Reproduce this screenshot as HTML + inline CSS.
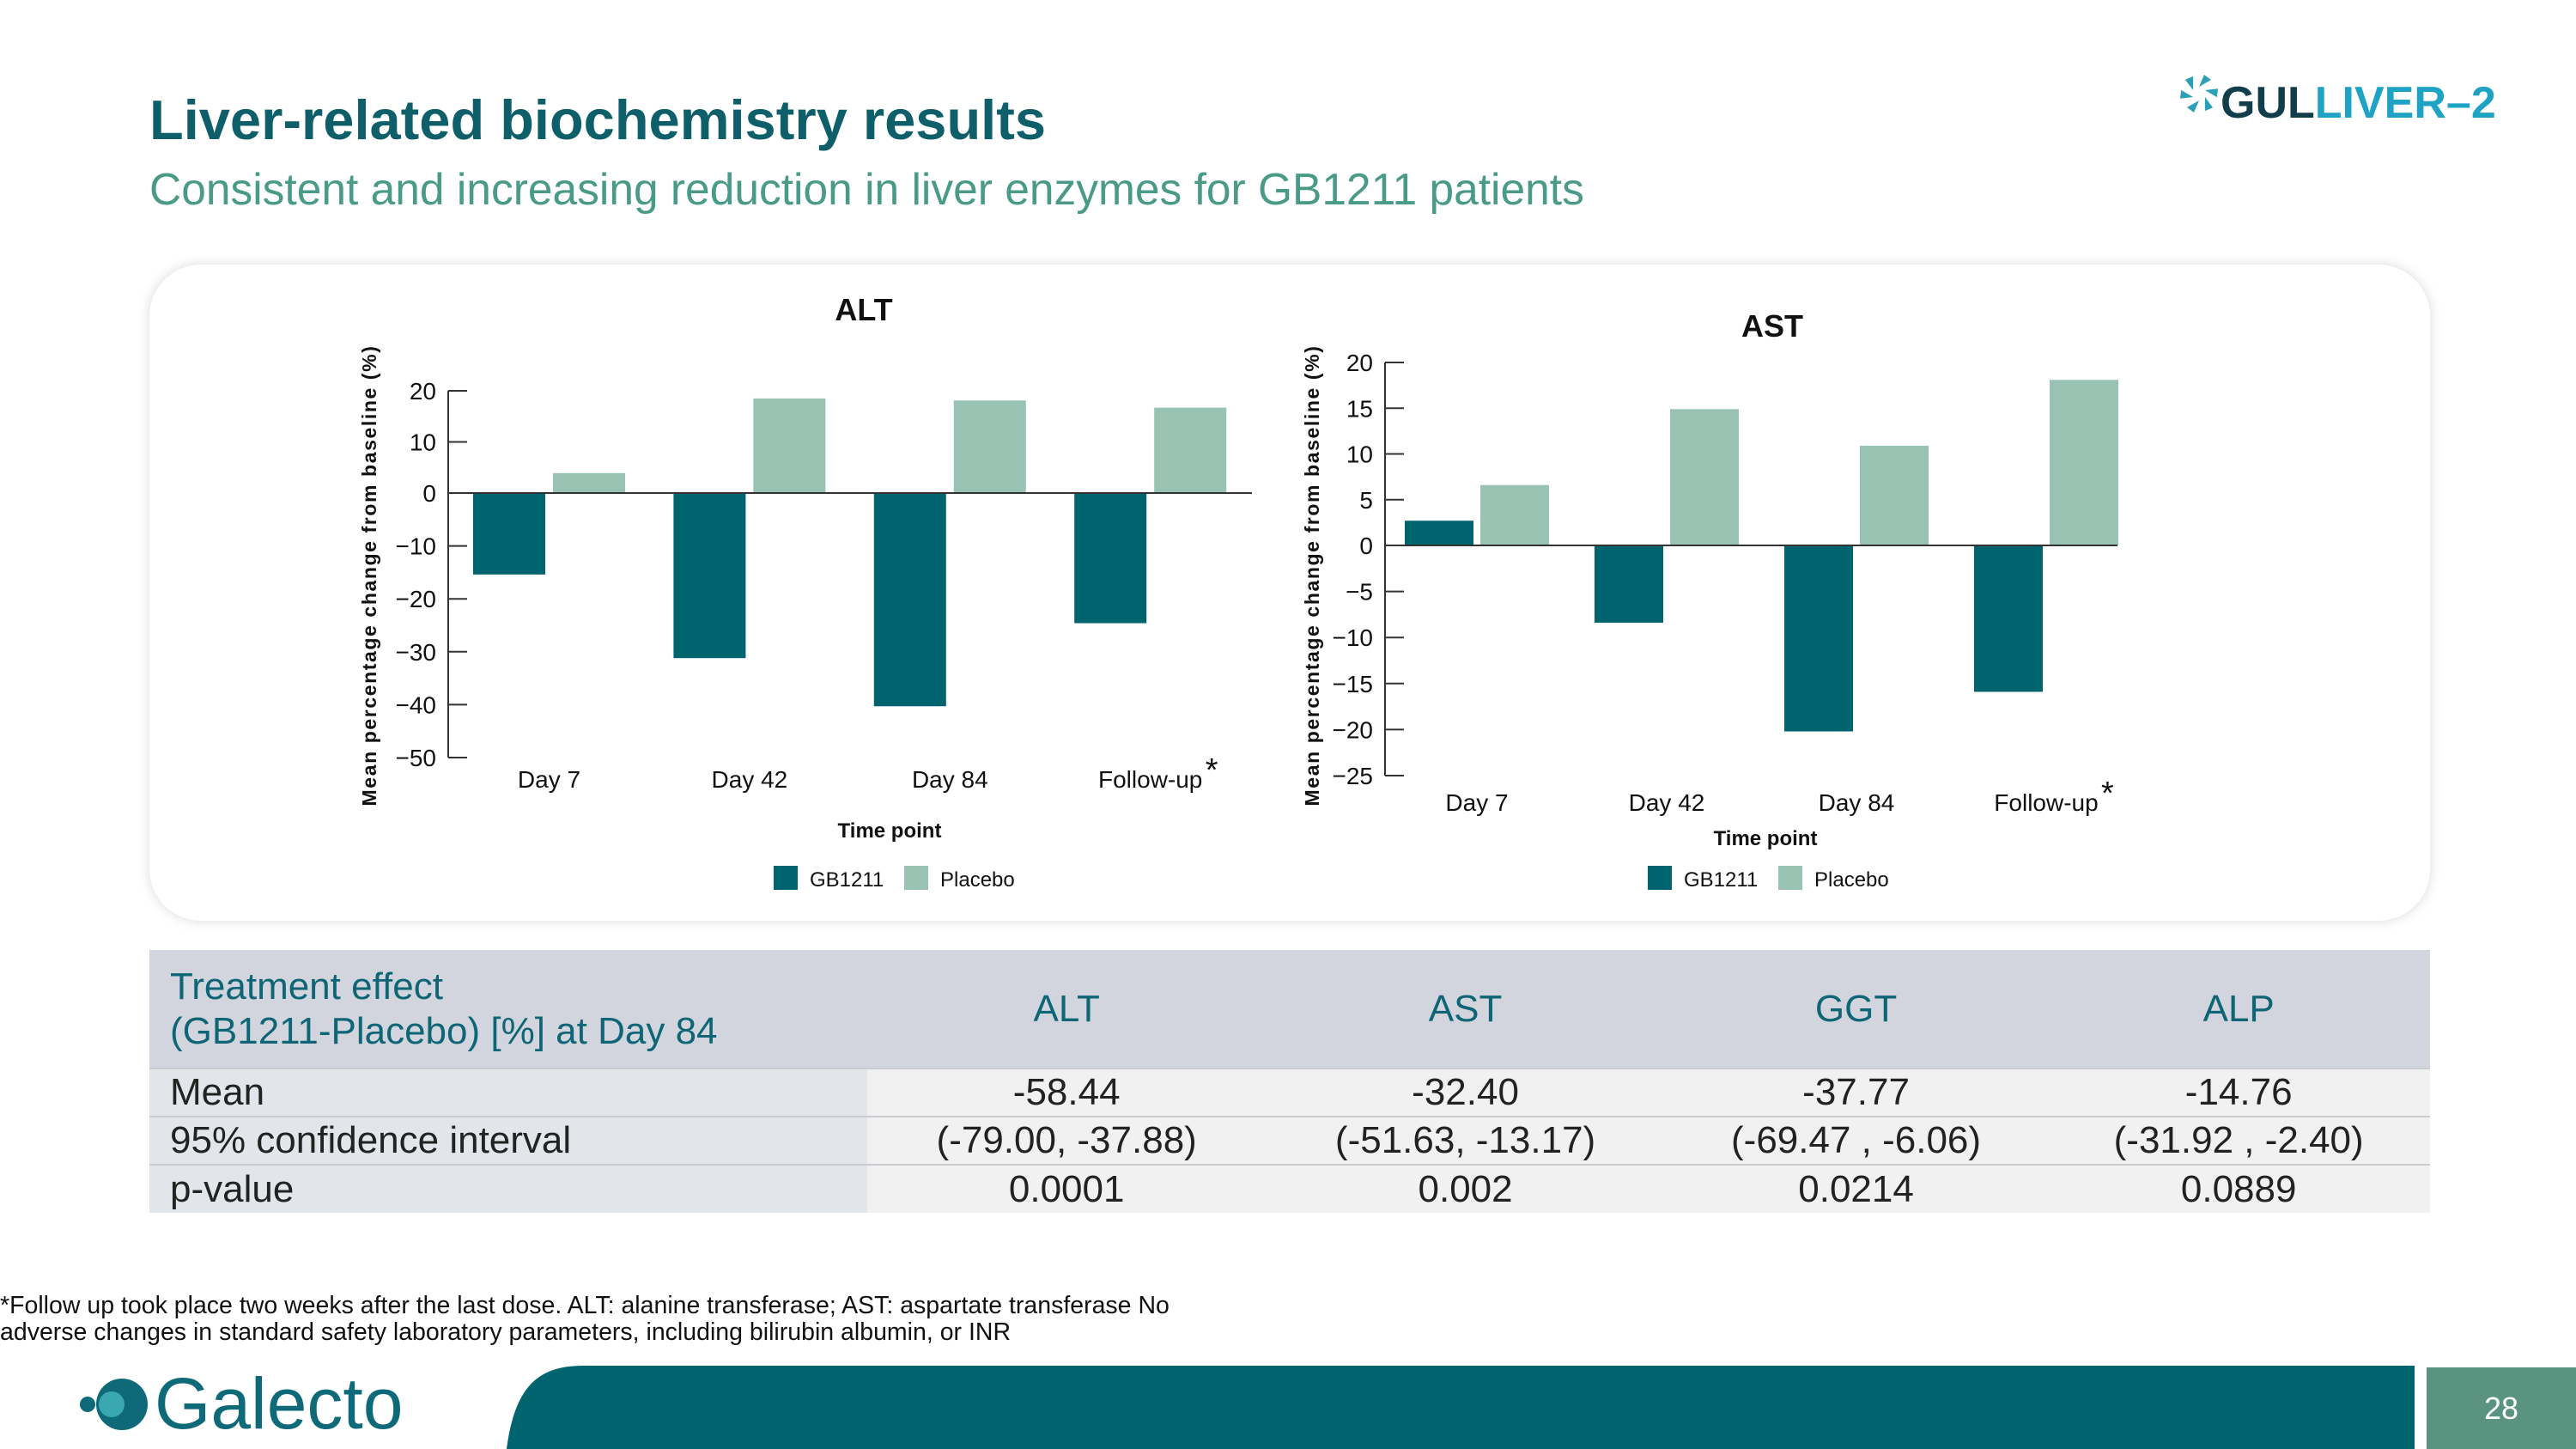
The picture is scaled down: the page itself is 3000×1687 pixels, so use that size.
<!DOCTYPE html>
<html><head><meta charset="utf-8"><style>
*{margin:0;padding:0;box-sizing:border-box}
body{width:3000px;height:1687px;position:relative;background:#fff;font-family:"Liberation Sans",sans-serif;overflow:hidden}
.abs{position:absolute}
#title{left:174px;top:102px;font-size:65px;font-weight:bold;color:#0e5f6a;white-space:nowrap}
#sub{left:174px;top:190px;font-size:51.5px;color:#4a9a88;white-space:nowrap}
#card{left:174px;top:308px;width:2656px;height:764px;border-radius:60px;background:#fff;box-shadow:0 0 14px rgba(0,0,0,0.15)}
table{position:absolute;left:174px;top:1106px;width:2656px;border-collapse:collapse;font-size:44px;color:#222}
td{text-align:center;padding:0;line-height:54px}
.hdr td{background:#d2d5dd;color:#0e6575;height:138px;line-height:52px}
.r td{height:56px;border-top:2px solid #c8cbd0;background:#f1f1f1}
.r td.f{background:#e2e6ea;text-align:left;padding-left:24px;width:836px}
#foot{left:0;top:1505px;font-size:28.5px;color:#111;line-height:31px;white-space:nowrap}
</style></head><body>
<div id="title" class="abs">Liver-related biochemistry results</div>
<div id="sub" class="abs">Consistent and increasing reduction in liver enzymes for GB1211 patients</div>
<div class="abs" style="left:2536px;top:84px;white-space:nowrap">
<svg width="50" height="50" viewBox="-25 -25 50 50" style="vertical-align:top"><g fill="#2a9fb5"><path d="M0,-8 L6,-22 L14,-16Z"/><path d="M0,-8 L6,-22 L14,-16Z" transform="rotate(60)"/><path d="M0,-8 L6,-22 L14,-16Z" transform="rotate(120)"/><path d="M0,-8 L6,-22 L14,-16Z" transform="rotate(180)"/><path d="M0,-8 L6,-22 L14,-16Z" transform="rotate(240)"/><path d="M0,-8 L6,-22 L14,-16Z" transform="rotate(300)"/></g></svg><span style="font-size:52px;font-weight:bold;color:#123e4b;position:relative;top:6px">GUL</span><span style="font-size:52px;font-weight:bold;color:#1fa3c4;position:relative;top:6px">LIVER–2</span></div>
<div id="card" class="abs"></div>
<svg id="charts" class="abs" style="left:0;top:0" width="3000" height="1687"></svg>
<table>
<tr class="hdr"><td style="text-align:left;padding-left:24px;width:836px">Treatment effect<br>(GB1211-Placebo) [%] at Day 84</td><td>ALT</td><td>AST</td><td>GGT</td><td>ALP</td></tr>
<tr class="r"><td class="f">Mean</td><td>-58.44</td><td>-32.40</td><td>-37.77</td><td>-14.76</td></tr>
<tr class="r"><td class="f">95% confidence interval</td><td>(-79.00, -37.88)</td><td>(-51.63, -13.17)</td><td>(-69.47 , -6.06)</td><td>(-31.92 , -2.40)</td></tr>
<tr class="r"><td class="f">p-value</td><td>0.0001</td><td>0.002</td><td>0.0214</td><td>0.0889</td></tr>
</table>
<div id="foot" class="abs">*Follow up took place two weeks after the last dose. ALT: alanine transferase; AST: aspartate transferase No<br>adverse changes in standard safety laboratory parameters, including bilirubin albumin, or INR</div>
<div class="abs" style="left:90px;top:1586px;white-space:nowrap">
<svg width="90" height="76" style="vertical-align:middle"><circle cx="12" cy="38" r="9" fill="#0e6a78"/><circle cx="52" cy="38" r="30" fill="#0e6a78"/><circle cx="40" cy="38" r="15" fill="#3aa8b0"/></svg><span style="font-size:84px;color:#0e6a78;vertical-align:middle">Galecto</span></div>
<svg class="abs" style="left:590px;top:1590px" width="2222" height="97"><path d="M0,97 C10,20 40,0 90,0 L2222,0 L2222,97Z" fill="#00646e"/></svg>
<div class="abs" style="left:2826px;top:1592px;width:174px;height:95px;background:#5a9480;color:#fff;font-size:36px;text-align:center;line-height:95px">28</div>
<script>
const categories=["Day 7","Day 42","Day 84","Follow-up"];
const altGB=[-15.4,-31.2,-40.3,-24.6];
const altPl=[3.9,18.5,18.1,16.7];
const altTicks=[20,10,0,-10,-20,-30,-40,-50];
const astGB=[2.7,-8.4,-20.2,-15.9];
const astPl=[6.6,14.9,10.9,18.1];
const astTicks=[20,15,10,5,0,-5,-10,-15,-20,-25];
const NS="http://www.w3.org/2000/svg";
const svg=document.getElementById('charts');
function mk(t,a,txt){const e=document.createElementNS(NS,t);for(const k in a)e.setAttribute(k,a[k]);if(txt!==undefined)e.textContent=txt;svg.appendChild(e);return e;}
function chart(c){
 const y=v=>c.y0+(c.top-c.y0)*(v-0)/(c.max-0);
 const yb=v=>c.y0+(c.bot-c.y0)*(v/c.min);
 const Y=v=>v>=0?y(v):yb(v);
 let t=mk('text',{x:c.cx,y:c.titleY,'font-size':36,'font-weight':'bold','text-anchor':'middle',fill:'#111'},c.title);
 
 
 let ax=mk('line',{x1:c.ax,y1:Y(c.max),x2:c.ax,y2:Y(c.min),stroke:'#333','stroke-width':2});
 
 
 c.ticks.forEach(v=>{
  let l=mk('line',{x1:c.ax,y1:Y(v),x2:c.ax+22,y2:Y(v),stroke:'#333','stroke-width':2});
  
  
  let tx=mk('text',{x:c.ax-14,y:Y(v)+10,'font-size':28,'text-anchor':'end',fill:'#111'},v<0?'−'+(-v):String(v));
  
  
 });
 categories.forEach((cat,i)=>{
  const gx=c.first+i*c.step;
  [[c.gb[i],'#00646e',0],[c.pl[i],'#98c2b2',c.bw+c.gap]].forEach(([v,col,off])=>{
   const r=mk('rect',{x:gx+off,y:Math.min(Y(v),c.y0),width:c.bw,height:Math.abs(Y(v)-c.y0),fill:col});
   
   
  });
  let ct=mk('text',{x:gx+c.bw+c.gap/2,y:c.catY,'font-size':28,'text-anchor':'middle',fill:'#111'},cat);
  
  
 });
 let st=mk('text',{x:c.first+3*c.step+c.bw+c.gap/2+64,y:c.catY-8,'font-size':38,fill:'#111'},'*');
 
 
 let z=mk('line',{x1:c.ax,y1:c.y0,x2:c.zeroEnd,y2:c.y0,stroke:'#333','stroke-width':2});
 
 
 let xt=mk('text',{x:c.tpX,y:c.tpY,'font-size':24,'font-weight':'bold','text-anchor':'middle',fill:'#111'},'Time point');
 
 
 let yt=mk('text',{x:0,y:0,'font-size':23,'font-weight':'bold','letter-spacing':1.6,'text-anchor':'middle',fill:'#111',transform:`translate(${c.ytX},${c.ytY}) rotate(-90)`},'Mean percentage change from baseline (%)');
 
 
 [['#00646e','GB1211',0],['#98c2b2','Placebo',152]].forEach(([col,lab,o])=>{
  let s=mk('rect',{x:c.legX+o,y:1008,width:28,height:28,fill:col});
  
  
  let lt=mk('text',{x:c.legX+o+42,y:1032,'font-size':24,fill:'#111'},lab);
  
  
 });
}
chart({key:'alt',title:'ALT',cx:1006,titleY:373,ax:522,y0:574,top:455,max:20,bot:882,min:-50,ticks:altTicks,gb:altGB,pl:altPl,first:551,step:233.4,bw:84,gap:9,zeroEnd:1458,catY:917,tpX:1036,tpY:975,ytX:438,ytY:670,legX:901});
chart({key:'ast',title:'AST',cx:2064,titleY:392,ax:1613,y0:635,top:422,max:20,bot:903,min:-25,ticks:astTicks,gb:astGB,pl:astPl,first:1636,step:221,bw:80,gap:8,zeroEnd:2466,catY:944,tpX:2056,tpY:984,ytX:1536,ytY:670,legX:1919});
</script>
</body></html>
